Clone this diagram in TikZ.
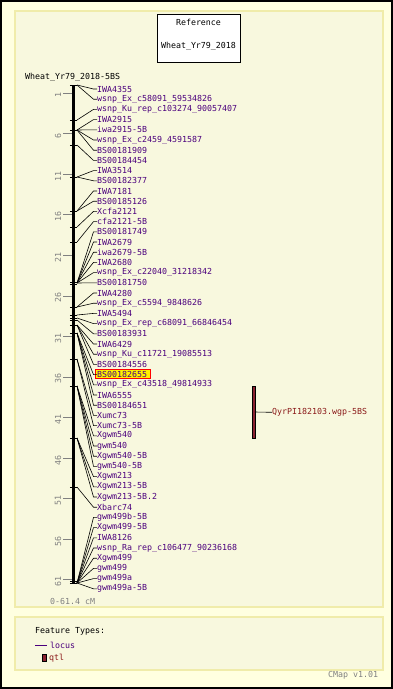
\documentclass[tikz,border=0pt]{standalone}
\usepackage{fontspec}
\newfontfamily\pix{DejaVu Sans Mono}
\definecolor{outerbg}{RGB}{255,255,224}
\definecolor{panelbg}{RGB}{248,248,222}
\definecolor{panelborder}{RGB}{240,236,170}
\definecolor{locuscol}{RGB}{75,0,125}
\definecolor{qtlcol}{RGB}{139,34,50}
\definecolor{qtltext}{RGB}{139,26,26}
\definecolor{scalegrey}{RGB}{128,128,128}
\begin{document}
\begin{tikzpicture}[x=1pt,y=-1pt,
  pixfont/.style={font=\pix\fontsize{8.3}{9}\selectfont},
  lbl/.style={pixfont, text=locuscol, anchor=west, inner sep=0pt},
  blk/.style={pixfont, text=black, anchor=west, inner sep=0pt},
  grey/.style={pixfont, text=scalegrey, anchor=west, inner sep=0pt},
  scl/.style={pixfont, text=scalegrey, inner sep=0pt, rotate=90},
  conn/.style={line width=0.6pt, black},
  panel/.style={draw=panelborder, fill=panelbg, line width=1.2pt},
  refbox/.style={draw=black, fill=white, line width=0.8pt, minimum width=83pt, minimum height=48pt, inner sep=0pt}]
\useasboundingbox (0,0) rectangle (393,689);
\fill[outerbg] (0,0) rectangle (393,689);
\draw[line width=1.6pt] (0.8,0.8) rectangle (392.2,688.2);
\draw[panel] (15,11) rectangle (383,607);
\draw[panel] (15,617) rectangle (383,670);

% reference box
\node[refbox] (ref) at (198.5,38) {};
\node[pixfont, inner sep=0pt] (reft1) at (198.5,22) {Reference};
\node[pixfont, inner sep=0pt] (reft2) at (198.5,46) {Wheat\_Yr79\_2018};

% title
\node[blk] (title) at (25,77.5) {Wheat\_Yr79\_2018-5BS};

% scale ticks and labels
\foreach \v in {1,6,11,16,21,26,31,36,41,46,51,56,61} {
  \pgfmathsetmacro\sy{85+8.11*\v}
  \coordinate (S\v a) at (63,\sy);
  \coordinate (S\v b) at (73,\sy);
  \draw[scalegrey, line width=0.7pt] (S\v a) -- (S\v b);
  \node[scl] (SL\v) at (58,\sy+2) {\v};
}

% chromosome bar
\coordinate (bartop) at (73.3,85);
\coordinate (barbot) at (73.3,583);
\draw[line width=2.6pt] (bartop) -- (barbot);
\foreach \m in {85,120,130,145,177,211,227,242,282,284,307,315,318,320,325,333,359,386,438,487,581,583} {
  \draw[line width=0.8pt] (69.8,\m) -- (77,\m);
}

% highlight
\fill[yellow] (95.5,369.6) rectangle (150.5,378.6);
\draw[red, line width=0.8pt] (95.5,369.6) rectangle (150.5,378.6);

% loci
\foreach \i/\t/\m in {
 1/IWA4355/85, 2/wsnp\_Ex\_c58091\_59534826/85, 3/wsnp\_Ku\_rep\_c103274\_90057407/120,
 4/IWA2915/130, 5/iwa2915-5B/130, 6/wsnp\_Ex\_c2459\_4591587/130, 7/BS00181909/130,
 8/BS00184454/145, 9/IWA3514/177, 10/BS00182377/177, 11/IWA7181/211, 12/BS00185126/211,
 13/Xcfa2121/227, 14/cfa2121-5B/242, 15/BS00181749/283, 16/IWA2679/283, 17/iwa2679-5B/283,
 18/IWA2680/283, 19/wsnp\_Ex\_c22040\_31218342/283, 20/BS00181750/283, 21/IWA4280/307,
 22/wsnp\_Ex\_c5594\_9848626/307, 23/IWA5494/315, 24/wsnp\_Ex\_rep\_c68091\_66846454/318,
 25/BS00183931/320, 26/IWA6429/325, 27/wsnp\_Ku\_c11721\_19085513/325, 28/BS00184556/325,
 29/BS00182655/333, 30/wsnp\_Ex\_c43518\_49814933/333, 31/IWA6555/333, 32/BS00184651/333,
 33/Xumc73/359, 34/Xumc73-5B/359, 35/Xgwm540/386, 36/gwm540/386, 37/Xgwm540-5B/386,
 38/gwm540-5B/386, 39/Xgwm213/438, 40/Xgwm213-5B/438, 41/Xgwm213-5B.2/438, 42/Xbarc74/487,
 43/gwm499b-5B/583, 44/Xgwm499-5B/583, 45/IWA8126/583, 46/wsnp\_Ra\_rep\_c106477\_90236168/583,
 47/Xgwm499/583, 48/gwm499/583, 49/gwm499a/583, 50/gwm499a-5B/583} {
  \pgfmathsetmacro\ly{89+(\i-1)*10.2}
  \node[lbl] (L\i) at (97,\ly) {\t};
  \coordinate (M\i) at (77,\m);
  \coordinate (K\i) at (93.5,\ly);
  \draw[conn] (M\i) -- (K\i) -- (L\i.west);
}

% QTL
\node[fill=qtlcol, draw=black, line width=0.3pt, minimum width=3pt, minimum height=52pt, inner sep=0pt] (qtl) at (253.2,412) {};
\node[lbl, text=qtltext] (qtllab) at (272,412.3) {QyrPI182103.wgp-5BS};
\draw[conn] (qtl.east) -- (qtllab.west);

% scale text
\node[grey] (range) at (50,601.5) {0-61.4 cM};

% legend
\node[blk] (ft) at (35,631) {Feature Types:};
\coordinate (lg1) at (35,645);
\coordinate (lg2) at (47,645);
\draw[locuscol, line width=0.8pt] (lg1) -- (lg2);
\node[lbl] (locus) at (50,645) {locus};
\node[fill=qtlcol, draw=black, line width=0.4pt, minimum width=3.4pt, minimum height=7pt, inner sep=0pt] (lgq) at (44,657.5) {};
\node[lbl, text=qtltext] (qtlleg) at (49,658) {qtl};

\node[grey] (cmap) at (328,675.5) {CMap v1.01};
\end{tikzpicture}
\end{document}
